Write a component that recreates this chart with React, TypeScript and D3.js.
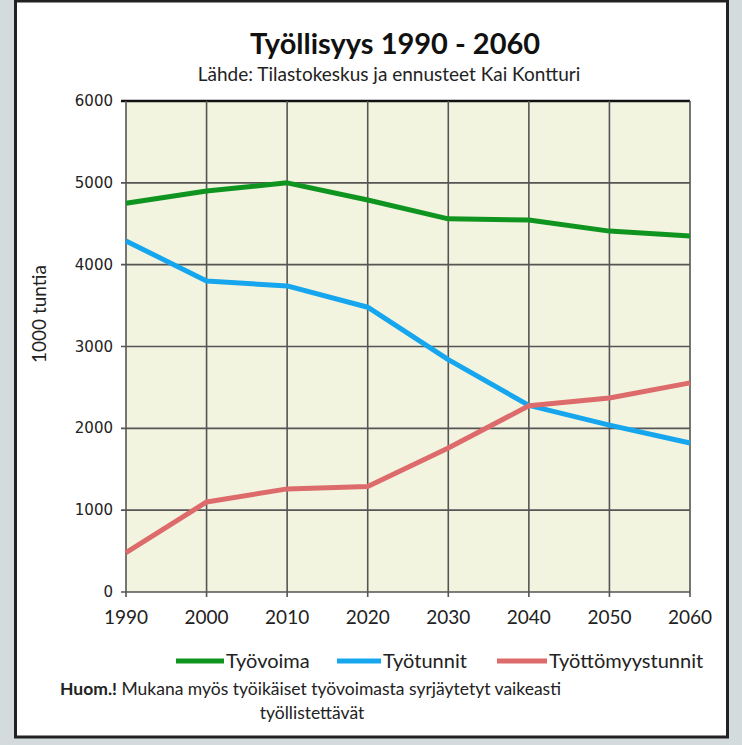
import React from "react";
import * as d3 from "d3";

const years = [1990, 2000, 2010, 2020, 2030, 2040, 2050, 2060];
const tyovoima = [4750, 4900, 5000, 4790, 4560, 4545, 4410, 4350];
const tyotunnit = [4290, 3800, 3740, 3480, 2840, 2280, 2040, 1820];
const tyottomyystunnit = [480, 1100, 1260, 1290, 1760, 2275, 2370, 2555];
const yTicks = [0, 1000, 2000, 3000, 4000, 5000, 6000];

const seriesNames = ["Työvoima", "Työtunnit", "Työttömyystunnit"];
const seriesColors = ["#0f951f", "#16a6ee", "#de6b6b"];

const W = 742;
const H = 745;
const left = 126;
const right = 690;
const top = 101;
const bottom = 592;

export default function App() {
  const x = d3.scaleLinear().domain([1990, 2060]).range([left, right]);
  const y = d3.scaleLinear().domain([0, 6000]).range([bottom, top]);
  const line = d3
    .line<number>()
    .x((_, i) => x(years[i]))
    .y((d) => y(d));
  const data = [tyovoima, tyotunnit, tyottomyystunnit];
  const legendX = [[176, 226], [337, 383], [497, 549]];
  const calibri = "Lato, 'Open Sans', sans-serif";

  return (
    <svg
      width={W}
      height={H}
      style={{ position: "absolute", left: 0, top: 0 }}
    >
      <rect x={0} y={0} width={W} height={H} fill="#d3dbdc" />
      <rect x={15.5} y={1} width={712} height={736} fill="#ffffff" stroke="#222" strokeWidth={3} />
      <text x={395} y={54} textAnchor="middle" fontFamily={calibri} fontWeight="bold" fontSize={29} fill="#111">
        Työllisyys 1990 - 2060
      </text>
      <text x={389} y={81} textAnchor="middle" fontFamily={calibri} fontSize={19} fill="#222">
        Lähde: Tilastokeskus ja ennusteet Kai Kontturi
      </text>
      <rect x={left} y={top} width={right - left} height={bottom - top} fill="#f3f4e0" />
      {yTicks.map((t) => (
        <g key={t}>
          <line x1={left - 5} x2={right} y1={y(t)} y2={y(t)} stroke={t === 6000 ? "#111" : "#555"} strokeWidth={t === 6000 ? 2.5 : 1.6} />
          <text x={113} y={y(t) + 5} textAnchor="end" fontFamily="'DejaVu Sans', Verdana, sans-serif" fontSize={15} fill="#222">
            {t}
          </text>
        </g>
      ))}
      {years.map((yr) => (
        <g key={yr}>
          <line x1={x(yr)} x2={x(yr)} y1={top} y2={bottom + 5} stroke="#555" strokeWidth={1.6} />
          <text x={x(yr)} y={624} textAnchor="middle" fontFamily={calibri} fontSize={19} fill="#222">
            {yr}
          </text>
        </g>
      ))}
      <text
        transform={`translate(46, 314) rotate(-90)`}
        textAnchor="middle"
        fontFamily={calibri}
        fontSize={19}
        fill="#222"
      >
        1000 tuntia
      </text>
      {data.map((d, i) => (
        <path key={i} d={line(d) || ""} fill="none" stroke={seriesColors[i]} strokeWidth={5} strokeLinejoin="round" />
      ))}
      {seriesNames.map((n, i) => (
        <g key={n}>
          <line x1={legendX[i][0]} x2={legendX[i][1] - 2} y1={661} y2={661} stroke={seriesColors[i]} strokeWidth={5} />
          <text x={legendX[i][1]} y={668} fontFamily={calibri} fontSize={20} fill="#222">
            {n}
          </text>
        </g>
      ))}
      <text x={60} y={695} fontFamily={calibri} fontSize={17.5} fill="#222">
        <tspan fontWeight="bold">Huom.!</tspan> Mukana myös työikäiset työvoimasta syrjäytetyt vaikeasti
      </text>
      <text x={312} y={719} textAnchor="middle" fontFamily={calibri} fontSize={17.5} fill="#222">
        työllistettävät
      </text>
    </svg>
  );
}
